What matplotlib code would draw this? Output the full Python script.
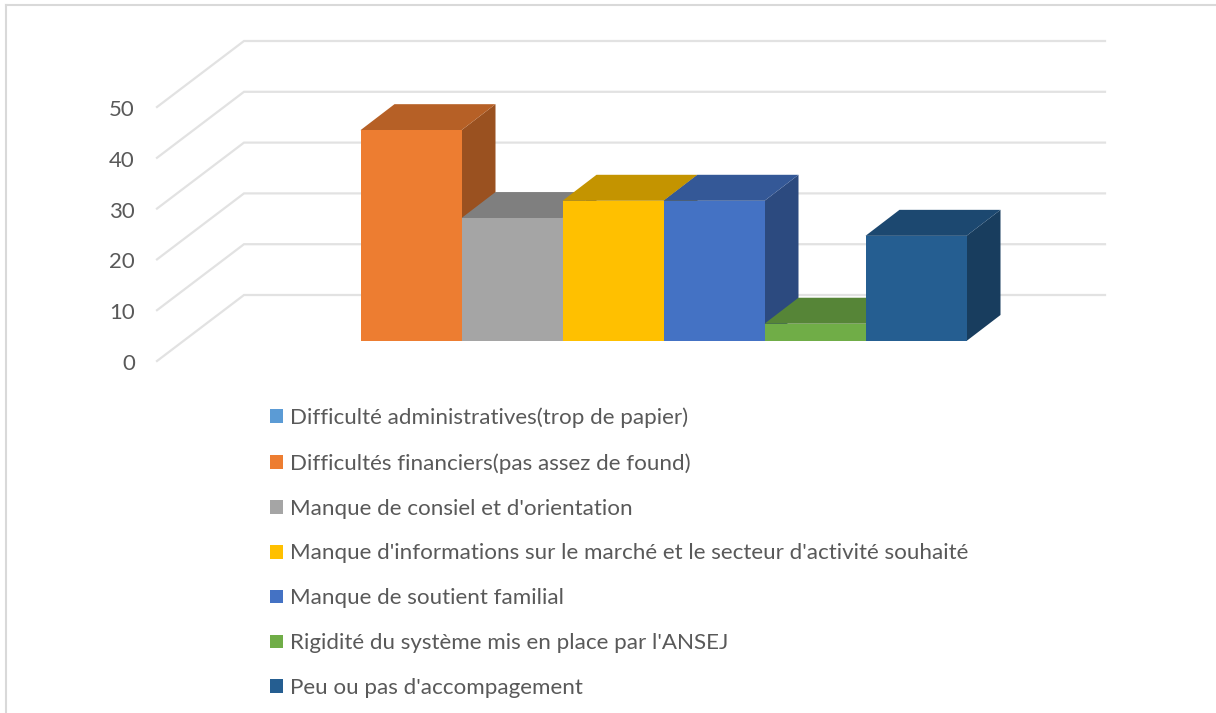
import matplotlib
matplotlib.use("Agg")
import matplotlib.pyplot as plt
from matplotlib.patches import Patch, Polygon
from matplotlib.colors import to_rgb

# ---- data ----
categories = ["Difficulté administratives(trop de papier)",
              "Difficultés financiers(pas assez de found)",
              "Manque de consiel et d'orientation",
              "Manque d'informations sur le marché et le secteur d'activité souhaité",
              "Manque de soutient familial",
              "Rigidité du système mis en place par l'ANSEJ",
              "Peu ou pas d'accompagement"]
values = [0, 41.5, 24.2, 27.6, 27.6, 3.4, 20.7]
colors = ["#5B9BD5", "#ED7D31", "#A5A5A5", "#FFC000", "#4472C4", "#70AD47", "#255E91"]
y_ticks = [0, 10, 20, 30, 40, 50]

W, H = 1216, 713
fig = plt.figure(figsize=(W / 100, H / 100), dpi=100, facecolor="white")

# main axes: full figure; x in category units, y in value units
PX_PER_CAT = 101.0
PX_PER_VAL = 5.08
X0 = 259.5         # pixel of left edge of category 0
Y0 = 341.0         # pixel of value 0 on the bar front plane
ax = fig.add_axes([0, 0, 1, 1])
ax.set_xlim(-X0 / PX_PER_CAT, (W - X0) / PX_PER_CAT)
ax.set_ylim(-(H - Y0) / PX_PER_VAL, Y0 / PX_PER_VAL)
ax.axis("off")

def dx(px): return px / PX_PER_CAT
def dy(px): return px / PX_PER_VAL

# bar depth
DEPTH_X, DEPTH_Y = dx(34), dy(26)

# frame of the embedded picture
frame = "#d9d9d9"
ax.plot([dx(5.5 - X0)] * 2, [dy(Y0 - 5), dy(Y0 - H)], color=frame, lw=1.5, clip_on=False)
ax.plot([dx(5.5 - X0), dx(W - X0)], [dy(Y0 - 5)] * 2, color=frame, lw=1.5, clip_on=False)

# walls: gridlines on the side wall and the back wall
GRID = "#e2e2e2"
xl_front = dx(157 - X0)
xl_back = dx(244 - X0)
xr_back = dx(1105 - X0)
off_front = dy(Y0 - 361)
off_back = dy(Y0 - 295)
for v in y_ticks:
    ax.plot([xl_front, xl_back, xr_back],
            [v + off_front, v + off_back, v + off_back],
            color=GRID, lw=1.6, solid_joinstyle="miter", zorder=1)

# 3-D bars
def shade(c, f):
    return tuple(min(1, k * f) for k in to_rgb(c))

z = 2
for i, (v, c) in enumerate(zip(values, colors)):
    if v <= 0:
        continue
    l, r = i, i + 1
    top = Polygon([(l, v), (l + DEPTH_X, v + DEPTH_Y), (r + DEPTH_X, v + DEPTH_Y), (r, v)],
                  closed=True, fc=shade(c, 0.77), ec="none", zorder=z)
    side = Polygon([(r, 0), (r + DEPTH_X, DEPTH_Y), (r + DEPTH_X, v + DEPTH_Y), (r, v)],
                   closed=True, fc=shade(c, 0.65), ec="none", zorder=z)
    ax.add_patch(side)
    ax.add_patch(top)
    ax.bar([i + 0.5], [v], width=1.0, color=c, zorder=z + 0.5, linewidth=0)
    z += 1

# value axis: labels sit on the front edge of the side wall
ay = fig.add_axes([157 / W, (H - 362) / H, 10 / W, 254 / H])
ay.set_ylim(0, 50)
ay.set_yticks(y_ticks)
ay.set_xticks([])
ay.patch.set_alpha(0)
for s in ay.spines.values():
    s.set_visible(False)
ay.tick_params(axis="y", length=0, pad=16, labelsize=16, labelcolor="#595959")
for t in ay.get_yticklabels():
    t.set_family("Lato")

# legend
handles = [Patch(fc=c, ec="none") for c in colors]
leg = ax.legend(handles, categories, loc="upper left",
                bbox_to_anchor=(270 / W, 1 - 407.5 / H), bbox_transform=fig.transFigure,
                frameon=False, labelspacing=1.115,
                handlelength=0.58, handleheight=0.58, handletextpad=0.3,
                borderpad=0, borderaxespad=0,
                labelcolor="#595959", prop={"family": "Lato", "size": 16.1})

fig.savefig("out.png", dpi=100)
